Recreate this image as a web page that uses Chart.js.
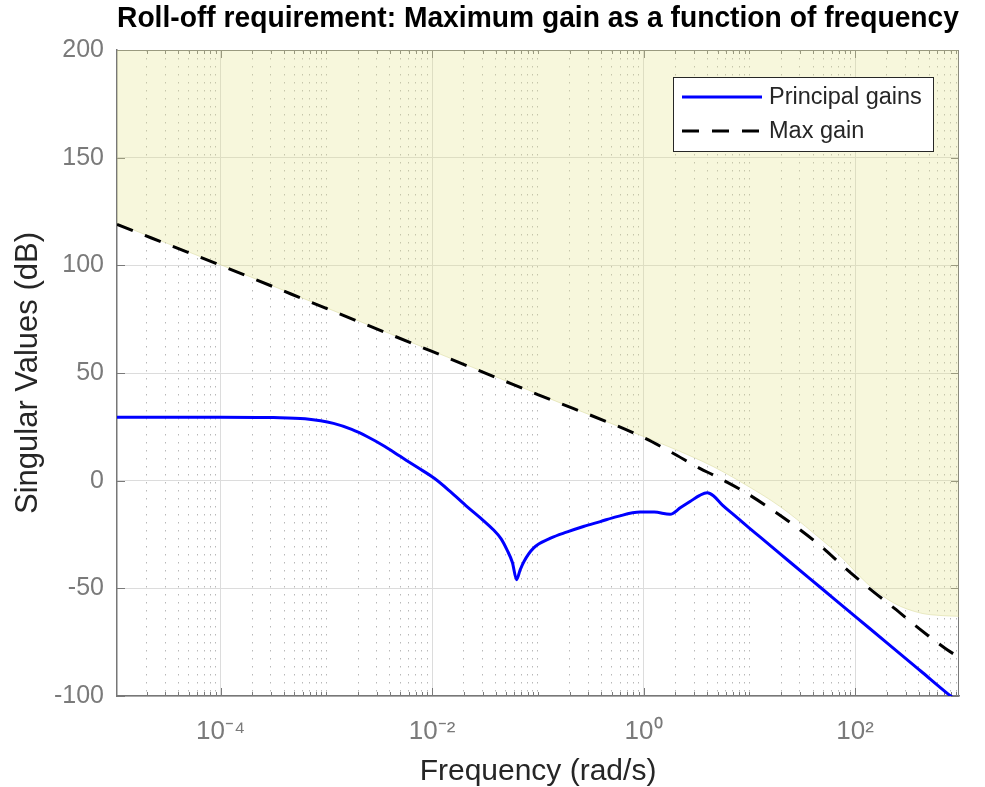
<!DOCTYPE html>
<html>
<head>
<meta charset="utf-8">
<script src="https://cdn.jsdelivr.net/npm/chart.js@4.4.1/dist/chart.umd.min.js"></script>
<style>
    html, body { margin: 0; padding: 0; background: #ffffff; }
    #wrap { width: 985px; height: 787px; }
</style>
</head>
<body>
<div id="wrap"><canvas id="sigmaPlot" width="985" height="787"></canvas></div>
<script>
// Frequencies in rad/s, gains in dB
const gainFreq = [1.05e-5, 1e-4, 3.16e-4, 6.3e-4, 1.17e-3, 1.74e-3, 2.45e-3, 3.55e-3, 5.0e-3, 7.2e-3,
    1.05e-2, 1.5e-2, 2.14e-2, 2.9e-2, 3.8e-2, 4.5e-2, 5.1e-2, 5.75e-2, 6.3e-2, 6.8e-2,
    7.4e-2, 9.1e-2, 0.132, 0.19, 0.27, 0.39, 0.56, 0.93, 1.26, 1.78,
    2.24, 2.75, 3.4, 4.0, 4.57, 5.6, 7.1, 10, 12.6, 24.5,
    46.8, 100, 200, 417, 759, 955];
const gainDb = [29.5, 29.5, 29.3, 28.7, 26.6, 23.8, 20.4, 16.0, 11.3, 6.3,
    1.1, -5.2, -12, -17.5, -22.8, -27, -32, -38, -46, -41.5,
    -37.5, -31.3, -26.7, -23.8, -21.3, -19, -16.7, -14.6, -14.6, -15.6,
    -12.5, -9.7, -6.8, -5.6, -7, -11.5, -15.8, -22, -26.1, -38,
    -49.5, -63, -75.3, -88.4, -99.1, -103];

const maxFreq = [1.05e-5, 1e-4, 1e-3, 1e-2, 0.1, 1, 1.78, 3.47, 4.57, 8.1,
    15.1, 27.5, 47.9, 77.6, 135, 234, 398, 708, 955];
const maxDb = [119, 100, 80, 60, 40, 20, 13.5, 5.5, 2.6, -3.9,
    -12.3, -21.3, -30.6, -39.9, -49.9, -59.2, -68.5, -77.8, -82];

// lower edge of the shaded (forbidden) region
const shadeFreq = [1.05e-5, 1e-4, 1e-3, 1e-2, 0.1, 1, 2, 4.57, 9.3, 19.5,
    40.7, 72.4, 129, 234, 417, 630, 955];
const shadeDb = [119.5, 100.3, 80.3, 60.3, 40.3, 20.5, 14.5, 6.5, -2, -12,
    -24.4, -35, -47.6, -56.9, -61.5, -62.6, -63];

const yTicks = [-100, -50, 0, 50, 100, 150, 200];
const xLabelTicks = [1e-4, 1e-2, 1, 1e2];
const xLabels = ['10⁻⁴', '10⁻²', '10⁰', '10²'];

const fontFamily = "'Liberation Sans', Arial, Helvetica, sans-serif";
const xMin = 1.05e-5, xMax = 960;

const toPoints = (xs, ys) => xs.map((x, i) => ({ x: x, y: ys[i] }));

// every 1..9 x 10^k inside the range, labelled decades are "major"
const buildLogTicks = () => {
    const ticks = [];
    for (let k = -6; k <= 3; k++) {
        for (let n = 1; n <= 9; n++) {
            const v = n * Math.pow(10, k);
            if (v < xMin || v > xMax) continue;
            const major = n === 1 && xLabelTicks.some(t => Math.abs(Math.log10(t) - k) < 1e-9);
            ticks.push({ value: v, major: major });
        }
    }
    return ticks;
};

const labelFor = (v) => {
    const i = xLabelTicks.findIndex(t => Math.abs(Math.log10(t) - Math.log10(v)) < 1e-6);
    return i >= 0 ? xLabels[i] : '';
};

// box lines on top/right and inward tick marks, drawn under the shading
const axesFrame = {
    id: 'axesFrame',
    beforeDatasetsDraw(chart) {
        const { ctx, chartArea: a, scales } = chart;
        ctx.save();
        ctx.strokeStyle = '#7a7a7a';
        ctx.lineWidth = 1;
        ctx.beginPath();
        ctx.moveTo(a.left, a.top + 0.5);
        ctx.lineTo(a.right, a.top + 0.5);
        ctx.moveTo(a.right - 0.5, a.top);
        ctx.lineTo(a.right - 0.5, a.bottom);
        yTicks.forEach(v => {
            const y = Math.round(scales.y.getPixelForValue(v)) + 0.5;
            ctx.moveTo(a.left, y); ctx.lineTo(a.left + 8, y);
            ctx.moveTo(a.right, y); ctx.lineTo(a.right - 8, y);
        });
        scales.x.ticks.forEach(t => {
            const x = Math.round(scales.x.getPixelForValue(t.value)) + 0.5;
            const len = t.major ? 8 : 4;
            ctx.moveTo(x, a.bottom); ctx.lineTo(x, a.bottom - len);
            ctx.moveTo(x, a.top); ctx.lineTo(x, a.top + len);
        });
        ctx.stroke();
        ctx.restore();
    }
};

// legend box in the upper right corner of the axes
const legendBox = {
    id: 'legendBox',
    afterDraw(chart) {
        const { ctx, chartArea: a } = chart;
        const w = 260, h = 74;
        const left = a.right - 26 - w, top = a.top + 27;
        ctx.save();
        ctx.fillStyle = '#ffffff';
        ctx.fillRect(left, top, w, h);
        ctx.strokeStyle = '#262626';
        ctx.lineWidth = 1;
        ctx.strokeRect(left + 0.5, top + 0.5, w, h);
        const rows = [0, 1];
        rows.forEach(i => {
            const ds = chart.data.datasets[i];
            const y = top + 20 + i * 34;
            ctx.beginPath();
            ctx.strokeStyle = ds.borderColor;
            ctx.lineWidth = ds.borderWidth;
            ctx.setLineDash(ds.borderDash || []);
            ctx.moveTo(left + 9, y);
            ctx.lineTo(left + 89, y);
            ctx.stroke();
            ctx.setLineDash([]);
            ctx.fillStyle = '#262626';
            ctx.font = '23.5px ' + fontFamily;
            ctx.textBaseline = 'middle';
            ctx.textAlign = 'left';
            ctx.fillText(ds.label, left + 96, y + 1);
        });
        ctx.restore();
    }
};

document.addEventListener('DOMContentLoaded', () => {
    const ctx = document.querySelector('#sigmaPlot').getContext('2d');
    Chart.defaults.font.family = fontFamily;

    new Chart(ctx, {
        type: 'line',
        data: {
            datasets: [
                {
                    label: 'Principal gains',
                    data: toPoints(gainFreq, gainDb),
                    borderColor: '#0000ff',
                    borderWidth: 3,
                    pointRadius: 0,
                    fill: false,
                    cubicInterpolationMode: 'monotone',
                    order: 0
                },
                {
                    label: 'Max gain',
                    data: toPoints(maxFreq, maxDb),
                    borderColor: '#000000',
                    borderWidth: 3,
                    borderDash: [17, 13],
                    pointRadius: 0,
                    fill: false,
                    cubicInterpolationMode: 'monotone',
                    order: 1
                },
                {
                    label: 'Requirement region',
                    data: toPoints(shadeFreq, shadeDb),
                    borderColor: 'rgba(215, 215, 150, 0.5)',
                    borderWidth: 1,
                    backgroundColor: 'rgba(229, 229, 140, 0.3)',
                    pointRadius: 0,
                    fill: 'end',
                    cubicInterpolationMode: 'monotone',
                    order: 2
                }
            ]
        },
        options: {
            responsive: false,
            animation: false,
            devicePixelRatio: 1,
            events: [],
            layout: { padding: { left: 0, right: 26, top: 0, bottom: 0 } },
            scales: {
                x: {
                    type: 'logarithmic',
                    min: xMin,
                    max: xMax,
                    afterBuildTicks: (scale) => { scale.ticks = buildLogTicks(); },
                    afterFit: (scale) => { scale.height = 91; },
                    ticks: {
                        autoSkip: false,
                        maxRotation: 0,
                        padding: 20,
                        color: '#7a7a7a',
                        font: { size: 26 },
                        callback: (value) => labelFor(value)
                    },
                    grid: {
                        drawTicks: false,
                        lineWidth: 1,
                        color: (c) => (c.tick && c.tick.major ? '#dcdcdc' : '#b8b8b8')
                    },
                    border: {
                        display: true,
                        color: '#777777',
                        width: 1.5,
                        dash: (c) => (c.tick && !c.tick.major ? [1.5, 6.5] : [])
                    },
                    title: {
                        display: true,
                        text: 'Frequency (rad/s)',
                        color: '#262626',
                        font: { size: 30, lineHeight: 1 },
                        padding: { top: 0, bottom: 0 }
                    }
                },
                y: {
                    min: -100,
                    max: 200,
                    afterBuildTicks: (scale) => { scale.ticks = yTicks.map(v => ({ value: v })); },
                    afterFit: (scale) => { scale.width = 117; },
                    ticks: {
                        padding: 13,
                        color: '#7a7a7a',
                        font: { size: 25 }
                    },
                    grid: {
                        drawTicks: false,
                        lineWidth: 1,
                        color: '#dcdcdc'
                    },
                    border: { display: true, color: '#777777', width: 1.5 },
                    title: {
                        display: true,
                        text: 'Singular Values (dB)',
                        color: '#262626',
                        font: { size: 31, lineHeight: 1 },
                        padding: { top: 12.5, bottom: 0 }
                    }
                }
            },
            plugins: {
                legend: { display: false },
                tooltip: { enabled: false },
                title: {
                    display: true,
                    fullSize: false,
                    text: 'Roll-off requirement: Maximum gain as a function of frequency',
                    color: '#000000',
                    font: { size: 29, weight: 'bold', lineHeight: 1.2 },
                    padding: { top: 2, bottom: 13.2 }
                }
            }
        },
        plugins: [axesFrame, legendBox]
    });
});
</script>
</body>
</html>
